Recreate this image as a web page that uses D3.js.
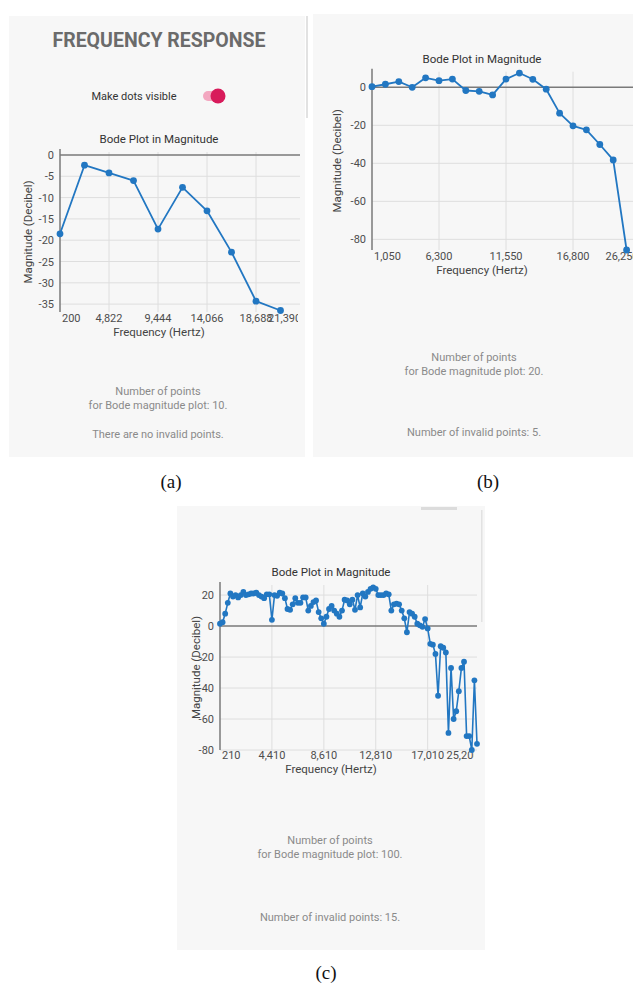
<!DOCTYPE html>
<html>
<head>
<meta charset="utf-8">
<script src="https://cdn.jsdelivr.net/npm/d3@7/dist/d3.min.js"></script>
<style>
  html, body { margin: 0; padding: 0; background: #fff; }
  svg { display: block; font-family: Roboto, "Noto Sans", sans-serif; }
  .tick-label { font-size: 11px; fill: #4d4d4d; }
  .axis-title { font-size: 11.5px; fill: #444; }
  .chart-title { font-size: 11.5px; fill: #333; }
  .note { font-size: 11px; fill: #8a8a8a; }
  .caption { font-family: "Liberation Serif", "DejaVu Serif", serif; font-size: 19px; fill: #111; }
</style>
</head>
<body>
<svg id="fig" width="633" height="985"></svg>
<script>
// ---- data (a): 10 points ----
const A_FREQ = [200, 2511, 4822, 7133, 9444, 11755, 14066, 16377, 18688, 20999];
const A_MAG  = [-18.5, -2.4, -4.2, -6.0, -17.4, -7.6, -13.1, -22.8, -34.3, -36.5];
const A_XTICKS  = [200, 4822, 9444, 14066, 18688, 21390];
const A_XLABELS = ["200", "4,822", "9,444", "14,066", "18,688", "21,390"];
const A_YTICKS  = [0, -5, -10, -15, -20, -25, -30, -35];

// ---- data (b): 20 points ----
const B_FREQ = [1050, 2100, 3150, 4200, 5250, 6300, 7350, 8400, 9450, 10500,
                11550, 12600, 13650, 14700, 15750, 16800, 17850, 18900, 19950, 21000];
const B_MAG  = [0.3, 1.6, 3.0, 0.0, 5.0, 3.5, 4.3, -1.7, -2.1, -4.0,
                4.3, 7.5, 4.2, -1.0, -13.6, -20.3, -22.4, -30.1, -38.2, -85.6];
const B_XTICKS  = [1050, 6300, 11550, 16800, 20640];
const B_XLABELS = ["1,050", "6,300", "11,550", "16,800", "26,250"];
const B_YTICKS  = [0, -20, -40, -60, -80];

// ---- data (c): 100 points ----
const C_FREQ = d3.range(1, 101).map(k => k * 210);
const C_MAG  = [
  1.5, 2.5, 8, 15, 21, 19, 20, 18.5, 20, 22,
  20, 20.5, 21, 21, 21.5, 20, 19, 18, 20.5, 20.5,
  4, 20, 19.5, 21.5, 21, 18, 11, 10.5, 14, 18,
  15, 15, 18.5, 18.5, 10, 13, 15.5, 16.5, 9, 5,
  1.5, 6, 11, 13, 10, 8, 6, 10, 17, 16.5,
  14, 17, 10.5, 20, 12, 21, 19, 22, 24, 25,
  24, 20, 20, 20, 21, 20.5, 10, 14, 14.5, 14,
  10, 5, -4, 9, 8, 6, 1.5, 0.5, -0.5, 4.5,
  -1.5, -11.5, -12, -18, -45, -13, -14, -17, -69, -27,
  -60, -55, -42, -27, -23, -71, -71, -80, -35, -76
];
const C_XTICKS  = [210, 4410, 8610, 12810, 17010, 19870];
const C_XLABELS = ["210", "4,410", "8,610", "12,810", "17,010", "25,200"];
const C_YTICKS  = [20, 0, -20, -40, -60, -80];

const LINE_COLOR = "#2277c2";

const svg = d3.select("#fig");

// ---- panel backgrounds ----
svg.append("rect").attr("x", 9).attr("y", 16).attr("width", 296).attr("height", 441).attr("fill", "#f7f7f7");
svg.append("rect").attr("x", 313).attr("y", 14).attr("width", 320).attr("height", 443).attr("fill", "#f7f7f7");
svg.append("rect").attr("x", 177).attr("y", 506).attr("width", 308).attr("height", 444).attr("fill", "#f7f7f7");

// scroll bits
svg.append("rect").attr("x", 306).attr("y", 16).attr("width", 2).attr("height", 102).attr("fill", "#e2e2e2");
svg.append("rect").attr("x", 421).attr("y", 507).attr("width", 36).attr("height", 3).attr("fill", "#dcdcdc");
svg.append("rect").attr("x", 481).attr("y", 510).attr("width", 1.5).attr("height", 112).attr("fill", "#e2e2e2");

// ---- header of (a) ----
svg.append("text").attr("x", 159).attr("y", 47).attr("text-anchor", "middle")
  .style("font-size", "19.5px").style("font-weight", "bold").style("fill", "#6b6b6b")
  .text("FREQUENCY RESPONSE");

svg.append("text").attr("x", 134).attr("y", 100).attr("text-anchor", "middle")
  .style("font-size", "11px").style("fill", "#333").text("Make dots visible");
svg.append("rect").attr("x", 203).attr("y", 91).attr("width", 20).attr("height", 10).attr("rx", 5)
  .attr("fill", "#f3a7c0");
svg.append("circle").attr("cx", 218).attr("cy", 96).attr("r", 7.5).attr("fill", "#d81b5b");

// ---- chart drawer ----
let clipId = 0;
function drawChart(cfg) {
  const x = d3.scaleLinear().domain(cfg.xDomain).range(cfg.xRange);
  const y = d3.scaleLinear().domain(cfg.yDomain).range(cfg.yRange);
  const g = svg.append("g");
  const [left, right] = cfg.xRange;
  const [bottom, top] = cfg.yRange;

  // horizontal grid
  g.selectAll(".hgrid").data(cfg.yTicks.filter(v => v !== 0)).join("line")
    .attr("x1", left).attr("x2", right)
    .attr("y1", d => y(d)).attr("y2", d => y(d))
    .attr("stroke", "#dedede").attr("stroke-width", 1);
  // vertical grid
  g.selectAll(".vgrid").data(cfg.vGrid).join("line")
    .attr("x1", d => x(d)).attr("x2", d => x(d))
    .attr("y1", top).attr("y2", bottom)
    .attr("stroke", "#dedede").attr("stroke-width", 1);

  // zero line and left axis
  g.append("line").attr("x1", left).attr("x2", right).attr("y1", y(0)).attr("y2", y(0))
    .attr("stroke", "#7a7a7a").attr("stroke-width", 1.5);
  g.append("line").attr("x1", left).attr("x2", left).attr("y1", top - 3).attr("y2", bottom)
    .attr("stroke", "#7a7a7a").attr("stroke-width", 1.5);

  // y tick labels
  g.selectAll(".ylab").data(cfg.yTicks).join("text")
    .attr("class", "tick-label")
    .attr("x", left - 6).attr("y", d => y(d) + 4)
    .attr("text-anchor", "end")
    .text(d => d);

  // x tick labels, clipped at the plot edge
  const id = "clip" + (clipId++);
  svg.append("clipPath").attr("id", id).append("rect")
    .attr("x", left - 20).attr("y", bottom).attr("width", cfg.labelClip - left + 20).attr("height", 14);
  g.append("g").attr("clip-path", `url(#${id})`)
    .selectAll("text").data(cfg.xTicks).join("text")
    .attr("class", "tick-label")
    .attr("x", (d, i) => i === 0 ? left + 2 : x(d))
    .attr("y", bottom + cfg.labelDy)
    .attr("text-anchor", (d, i) => i === 0 ? "start" : "middle")
    .text((d, i) => cfg.xLabels[i]);

  // titles
  g.append("text").attr("class", "chart-title").attr("x", cfg.titleX).attr("y", top - 9)
    .attr("text-anchor", "middle").text("Bode Plot in Magnitude");
  g.append("text").attr("class", "axis-title").attr("x", cfg.titleX).attr("y", bottom + cfg.titleDy)
    .attr("text-anchor", "middle").text("Frequency (Hertz)");
  g.append("text").attr("class", "axis-title")
    .attr("transform", `translate(${cfg.yTitleX},${(top + bottom) / 2}) rotate(-90)`)
    .attr("text-anchor", "middle").text("Magnitude (Decibel)");

  // series
  const pts = cfg.freq.map((f, i) => [f, cfg.mag[i]]);
  g.append("path").datum(pts)
    .attr("fill", "none").attr("stroke", LINE_COLOR).attr("stroke-width", cfg.lineW)
    .attr("stroke-linejoin", "round")
    .attr("d", d3.line().x(d => x(d[0])).y(d => y(d[1])));
  g.selectAll(".dot").data(pts).join("circle")
    .attr("cx", d => x(d[0])).attr("cy", d => y(d[1]))
    .attr("r", cfg.dotR).attr("fill", LINE_COLOR);

  // notes underneath
  cfg.notes.forEach(n => {
    svg.append("text").attr("class", "note").attr("x", cfg.noteX).attr("y", n[1])
      .attr("text-anchor", "middle").text(n[0]);
  });
}

drawChart({
  freq: A_FREQ, mag: A_MAG,
  xDomain: [200, 22838], xRange: [60, 300],
  yDomain: [-36.85, 0.7], yRange: [312, 152],
  xTicks: A_XTICKS, xLabels: A_XLABELS, yTicks: A_YTICKS,
  vGrid: A_XTICKS.slice(1, 5),
  labelClip: 298, labelDy: 10, titleDy: 24,
  titleX: 159, yTitleX: 32, dotR: 3.4, lineW: 1.8,
  noteX: 158,
  notes: [["Number of points", 395], ["for Bode magnitude plot: 10.", 409], ["There are no invalid points.", 438]]
});

drawChart({
  freq: B_FREQ, mag: B_MAG,
  xDomain: [1050, 22050], xRange: [372, 640],
  yDomain: [-85.6, 8.2], yRange: [250, 71.7],
  xTicks: B_XTICKS, xLabels: B_XLABELS, yTicks: B_YTICKS,
  vGrid: [6300, 11550, 16800],
  labelClip: 660, labelDy: 10, titleDy: 24,
  titleX: 482, yTitleX: 341, dotR: 3.4, lineW: 1.8,
  noteX: 474,
  notes: [["Number of points", 361], ["for Bode magnitude plot: 20.", 375], ["Number of invalid points: 5.", 436]]
});

drawChart({
  freq: C_FREQ, mag: C_MAG,
  xDomain: [210, 21000], xRange: [220, 477],
  yDomain: [-80, 26.5], yRange: [750, 585],
  xTicks: C_XTICKS, xLabels: C_XLABELS, yTicks: C_YTICKS,
  vGrid: [4410, 8610, 12810, 17010],
  labelClip: 474, labelDy: 9, titleDy: 23,
  titleX: 331, yTitleX: 200, dotR: 2.9, lineW: 1.6,
  noteX: 330,
  notes: [["Number of points", 844], ["for Bode magnitude plot: 100.", 858], ["Number of invalid points: 15.", 921]]
});

// ---- captions ----
svg.append("text").attr("class", "caption").attr("x", 171).attr("y", 488).attr("text-anchor", "middle").text("(a)");
svg.append("text").attr("class", "caption").attr("x", 488).attr("y", 488).attr("text-anchor", "middle").text("(b)");
svg.append("text").attr("class", "caption").attr("x", 326).attr("y", 979).attr("text-anchor", "middle").text("(c)");
</script>
</body>
</html>
